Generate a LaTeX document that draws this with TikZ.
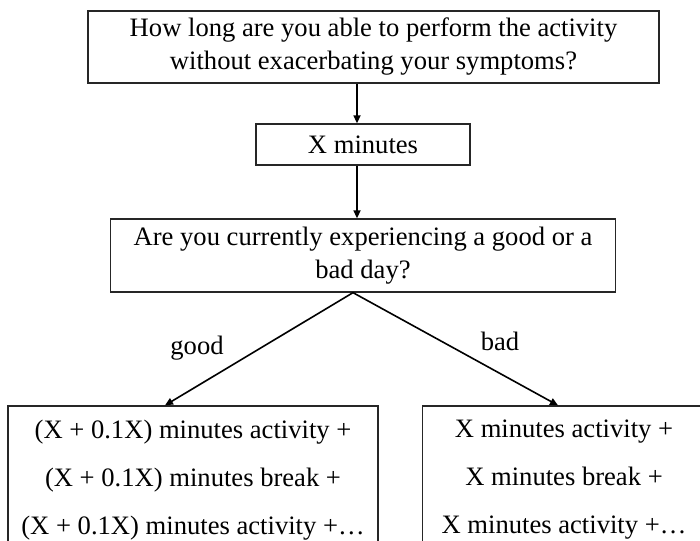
\documentclass[tikz,border=0pt]{standalone}
\usepackage{fontspec}
\setmainfont{Liberation Serif}
\usetikzlibrary{arrows.meta}
\begin{document}
\begin{tikzpicture}[x=1pt,y=-1pt,
  box/.style={draw=black!85, line width=1.3pt, inner sep=0pt, align=center, font=\fontsize{26.6}{33}\selectfont},
  outbox/.style={box, font=\fontsize{26.6}{48}\selectfont},
  conn/.style={line width=1.6pt, -{Triangle[length=8pt,width=7pt]}},
  lab/.style={font=\fontsize{26.6}{30.6}\selectfont, inner sep=0pt}]
\useasboundingbox (0,0) rectangle (700,540);
\clip (0,0) rectangle (700,540);
\node[box, minimum width=571pt, minimum height=72pt] (q1) at (373.5,47) {How long are you able to perform the activity\\without exacerbating your symptoms?};
\node[box, minimum width=214pt, minimum height=41pt] (xm) at (363,144.5) {X minutes};
\node[box, minimum width=505pt, minimum height=73pt] (q3) at (363,255.5) {Are you currently experiencing a good or a\\bad day?};
\node[outbox, minimum width=370pt, minimum height=148pt] (gb) at (193,480) {(X + 0.1X) minutes activity +\\(X + 0.1X) minutes break +\\(X + 0.1X) minutes activity +…};
\node[outbox, minimum width=283pt, minimum height=148pt] (bb) at (564,480) {X minutes activity +\\X minutes break +\\X minutes activity +…};
\coordinate (a1) at (357,0);
\coordinate (ap) at (353,0);
\coordinate (gt) at (165,0);
\coordinate (bt) at (558,0);
\draw[conn] (q1.south -| a1) -- (xm.north -| a1);
\draw[conn] (xm.south -| a1) -- (q3.north -| a1);
\draw[conn] (q3.south -| ap) -- (gb.north -| gt);
\draw[conn] (q3.south -| ap) -- (bb.north -| bt);
\node[lab] (lg) at (197,348) {good};
\node[lab] (lb) at (500,341) {bad};
\end{tikzpicture}
\end{document}
